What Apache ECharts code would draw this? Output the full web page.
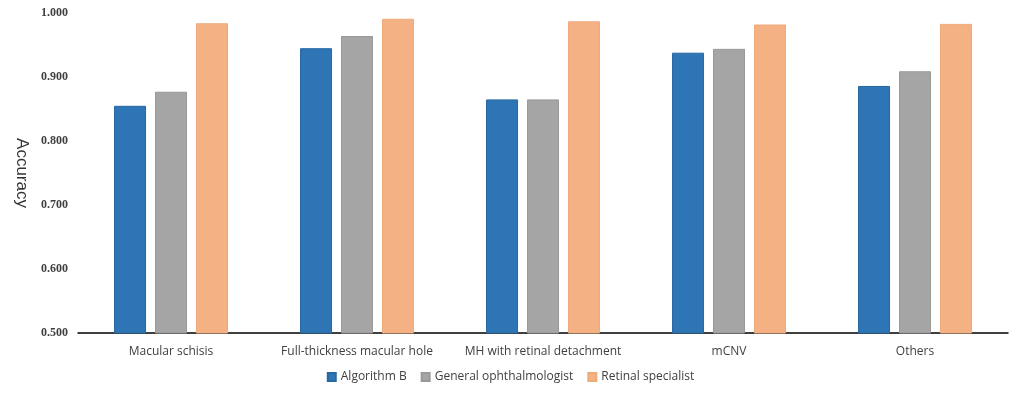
<!DOCTYPE html>
<html>
<head>
<meta charset="utf-8">
<script src="https://cdn.jsdelivr.net/npm/echarts@6/dist/echarts.min.js"></script>
<style>
  html, body { margin: 0; padding: 0; background: #fff; }
  #chart { width: 1021px; height: 395px; }
</style>
</head>
<body>
<div id="chart"></div>
<script>
const categories = [
  'Macular schisis',
  'Full-thickness macular hole',
  'MH with retinal detachment',
  'mCNV',
  'Others',
];
const algorithmB = [0.855, 0.945, 0.865, 0.938, 0.886];
const generalOphthalmologist = [0.877, 0.964, 0.865, 0.944, 0.909];
const retinalSpecialist = [0.984, 0.991, 0.987, 0.982, 0.983];
const yTicks = [0.5, 0.6, 0.7, 0.8, 0.9, 1.0];

const COLORS = ['#2E75B6', '#A5A5A5', '#F4B183'];
const BORDERS = ['#2868a3', '#999999', '#efaa7a'];

const chart = echarts.init(document.getElementById('chart'));

const makeSeries = (name, data, i) => ({
  name,
  type: 'bar',
  data,
  barWidth: 32,
  barGap: '28%',
  itemStyle: { color: COLORS[i], borderColor: BORDERS[i], borderWidth: 1 },
});

chart.setOption({
  animation: false,
  color: COLORS,
  grid: { left: 78, right: 13, top: 13, bottom: 62, containLabel: false },
  legend: {
    bottom: 7,
    left: 'center',
    itemWidth: 8,
    itemHeight: 8,
    itemGap: 14,
    icon: 'rect',
    textStyle: { fontFamily: 'Open Sans', fontSize: 12, color: '#404040' },
    data: ['Algorithm B', 'General ophthalmologist', 'Retinal specialist'],
  },
  xAxis: {
    type: 'category',
    data: categories,
    axisLine: { lineStyle: { color: '#000', width: 1.5 } },
    axisTick: { show: false },
    axisLabel: {
      interval: 0,
      margin: 13,
      fontFamily: 'Open Sans',
      fontSize: 12,
      color: '#404040',
    },
  },
  yAxis: {
    type: 'value',
    min: yTicks[0],
    max: yTicks[yTicks.length - 1],
    interval: 0.1,
    name: 'Accuracy',
    nameLocation: 'middle',
    nameRotate: -90,
    nameGap: 46,
    nameTextStyle: { fontFamily: 'Liberation Sans', fontSize: 17, color: '#333' },
    axisLine: { show: false },
    axisTick: { show: false },
    splitLine: { show: false },
    axisLabel: {
      margin: 10,
      fontFamily: 'Liberation Serif',
      fontWeight: 'bold',
      fontSize: 12,
      color: '#404040',
      formatter: (v) => v.toFixed(3),
    },
  },
  series: [
    makeSeries('Algorithm B', algorithmB, 0),
    makeSeries('General ophthalmologist', generalOphthalmologist, 1),
    makeSeries('Retinal specialist', retinalSpecialist, 2),
  ],
});
</script>
</body>
</html>
